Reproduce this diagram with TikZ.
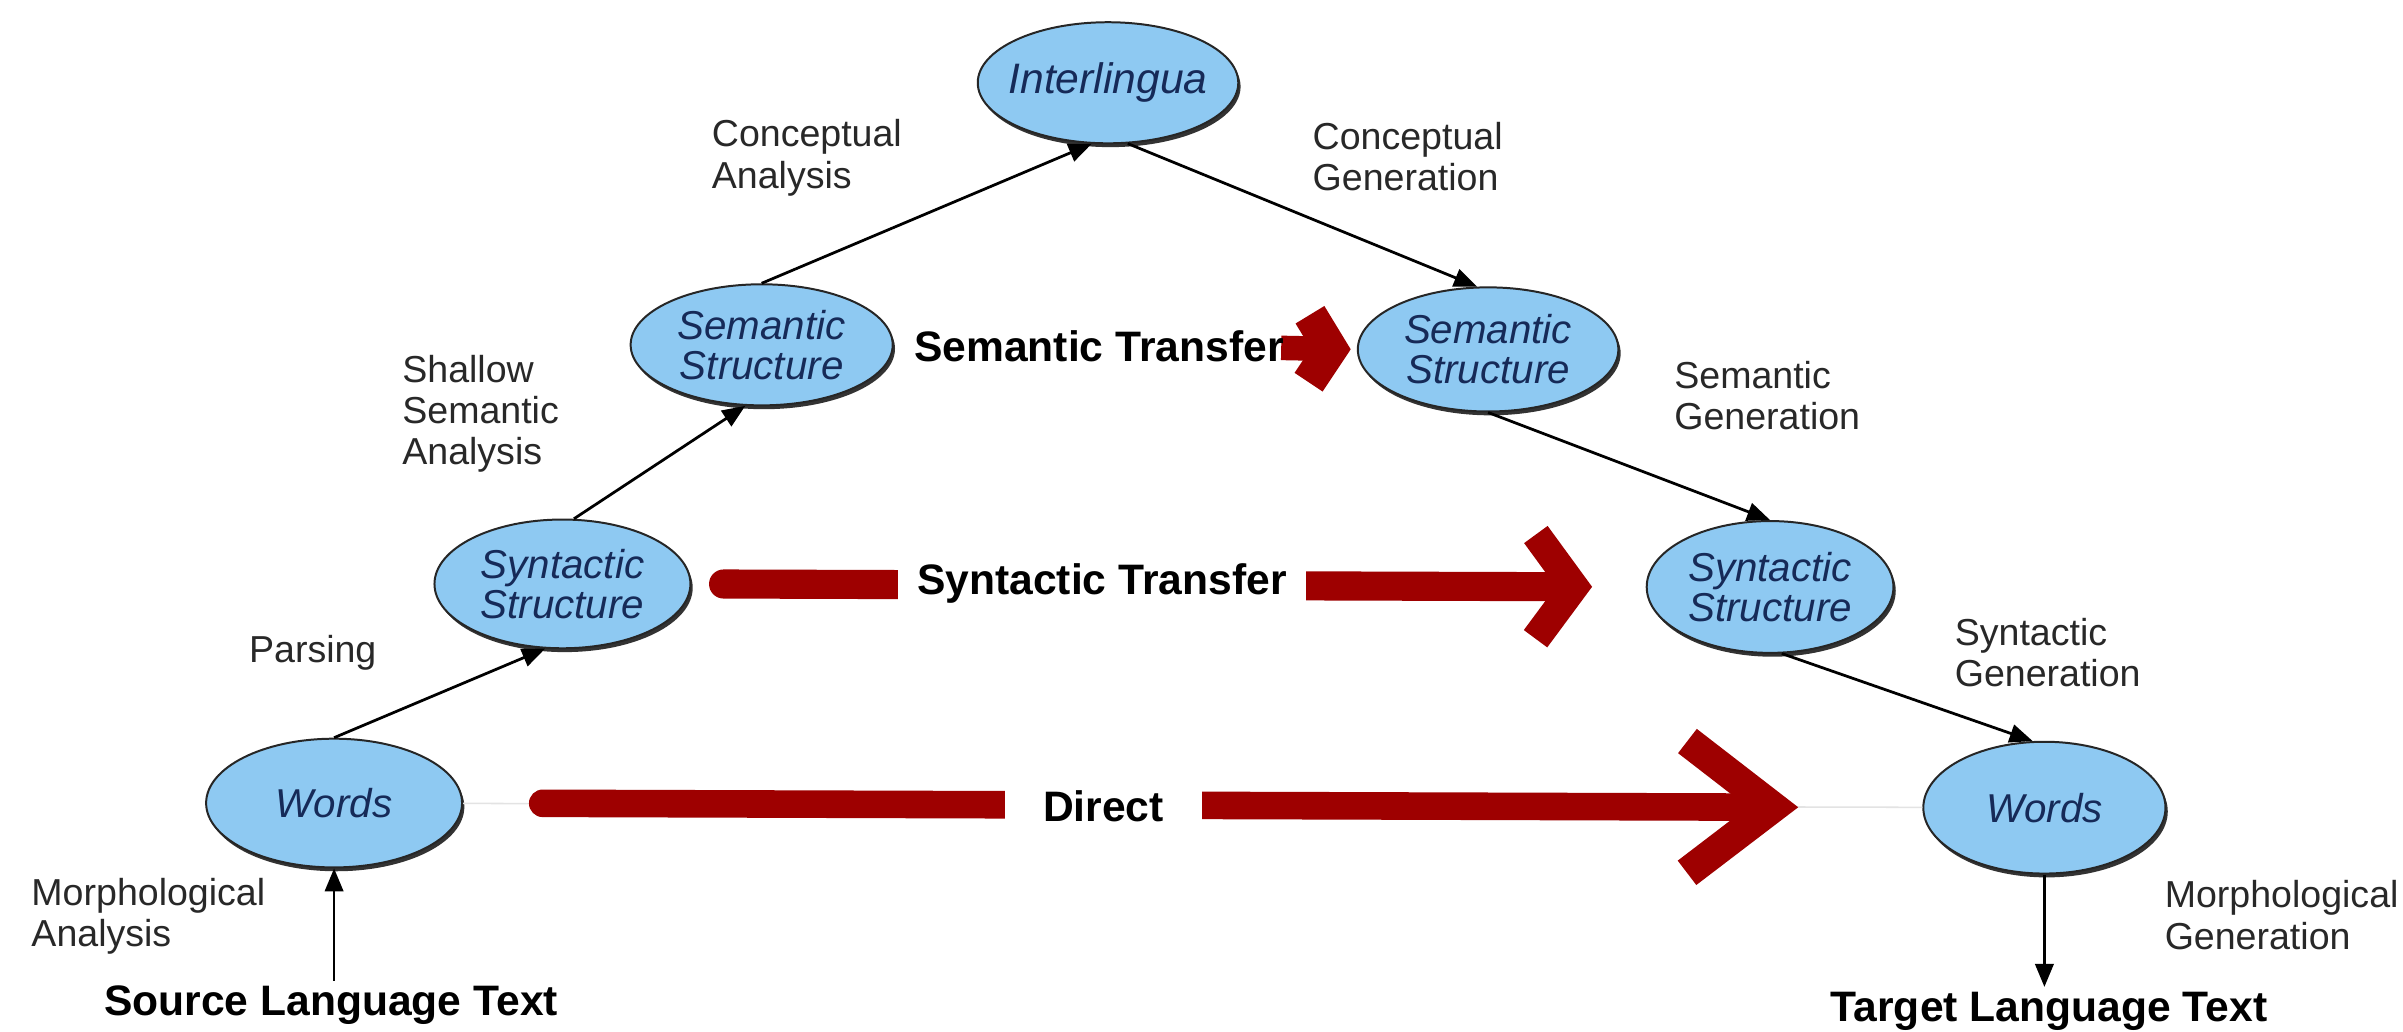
\documentclass[tikz,border=0pt]{standalone}
\usepackage{fontspec}
\setmainfont{Liberation Sans}
\usetikzlibrary{shapes.geometric,arrows.meta,shadows}
\definecolor{ellfill}{RGB}{142,201,242}
\definecolor{elltext}{RGB}{22,42,88}
\definecolor{arrred}{RGB}{158,0,0}
\definecolor{labtext}{RGB}{40,40,40}
\begin{document}
\begin{tikzpicture}[x=1pt,y=-1pt,
  ell/.style={ellipse, fill=ellfill, draw=black!85, line width=1.3pt,
    inner xsep=-8pt, inner ysep=-12pt, align=center, text=elltext,
    font=\fontsize{26.3}{26}\selectfont\itshape,
    drop shadow={shadow xshift=1.5pt, shadow yshift=-2.5pt, fill=black!80, opacity=1}},
  lab/.style={anchor=west, align=left, text=labtext, font=\fontsize{24.5}{27}\selectfont},
  boldlab/.style={font=\fontsize{27.8}{30}\selectfont\bfseries, text=black},
  conn/.style={line width=1.8pt, -{Triangle[length=15pt,width=12pt]}},
]
\fill[white] (0,0) rectangle (1568,673);
\useasboundingbox (0,0) rectangle (1568,673);

% ellipses
\node[ell, minimum width=170pt, minimum height=79pt, font=\fontsize{27.8}{28}\selectfont\itshape] (il) at (723,54) {Interlingua};
\node[ell, minimum width=171pt, minimum height=79pt] (smL) at (497,225) {Semantic\\Structure};
\node[ell, minimum width=170pt, minimum height=81pt] (smR) at (971,228) {Semantic\\Structure};
\node[ell, minimum width=167pt, minimum height=84pt] (sL) at (367,381) {Syntactic\\Structure};
\node[ell, minimum width=161pt, minimum height=86pt] (sR) at (1155,383) {Syntactic\\Structure};
\node[ell, minimum width=167pt, minimum height=84pt] (wL) at (218,524) {Words};
\node[ell, minimum width=158pt, minimum height=86pt] (wR) at (1334,527) {Words};

% source / target
\node[boldlab] (src) at (216,656) {Source Language Text};
\node[boldlab] (tgt) at (1337,660) {Target Language Text};

% labels
\node[lab] (ca) at (461,103) {Conceptual\\Analysis};
\node[lab] (cg) at (853,102) {Conceptual\\Generation};
\node[lab] (ssa) at (259,270) {Shallow\\Semantic\\Analysis};
\node[lab] (sg) at (1089,258) {Semantic\\Generation};
\node[lab] (pa) at (159,426) {Parsing};
\node[lab] (syg) at (1272,426) {Syntactic\\Generation};
\node[lab] (ma) at (17,598) {Morphological\\Analysis};
\node[lab] (mg) at (1409,597) {Morphological\\Generation};

% black connectors
\draw[conn] (wL.north) -- (sL.-105);
\draw[conn] (sL.80) -- (smL.-105);
\draw[conn] (smL.north) -- (il.-105);
\draw[conn] (il.-72) -- (smR.100);
\draw[conn] (smR.south) -- (sR.north);
\draw[conn] (sR.-80) -- (wR.100);
\draw[conn] (src.north -| wL.south) -- (wL.south);
\draw[conn] (wR.south) -- (wR.south |- tgt.north);

% direct
\draw[gray!22, line width=1pt] (wL) -- (wR);
\draw[arrred, line width=18pt, line cap=round, shorten <=52pt, shorten >=81pt,
  -{Straight Barb[length=56pt,width=86pt,line width=20pt]}] (wL.east) -- (wR.west);
\node[boldlab, fill=white, minimum width=129pt, minimum height=30pt] (dir) at (720,526) {Direct};

% syntactic transfer
\draw[arrred, line width=19pt, line cap=round, shorten <=21pt, shorten >=35pt,
  -{Straight Barb[length=25pt,width=68pt]}] (sL.east) -- (sR.west);
\node[boldlab, fill=white, minimum width=266pt, minimum height=30pt] (synT) at (719,381) {Syntactic Transfer};

% semantic transfer
\coordinate (stA) at (836,227);
\draw[arrred, line width=16pt, shorten >=4pt,
  -{Straight Barb[length=14pt,width=44pt,line width=22pt]}] (stA) -- (smR.west);
\node[boldlab, anchor=west] (semT) at (593,226) {Semantic Transfer};
\end{tikzpicture}
\end{document}
